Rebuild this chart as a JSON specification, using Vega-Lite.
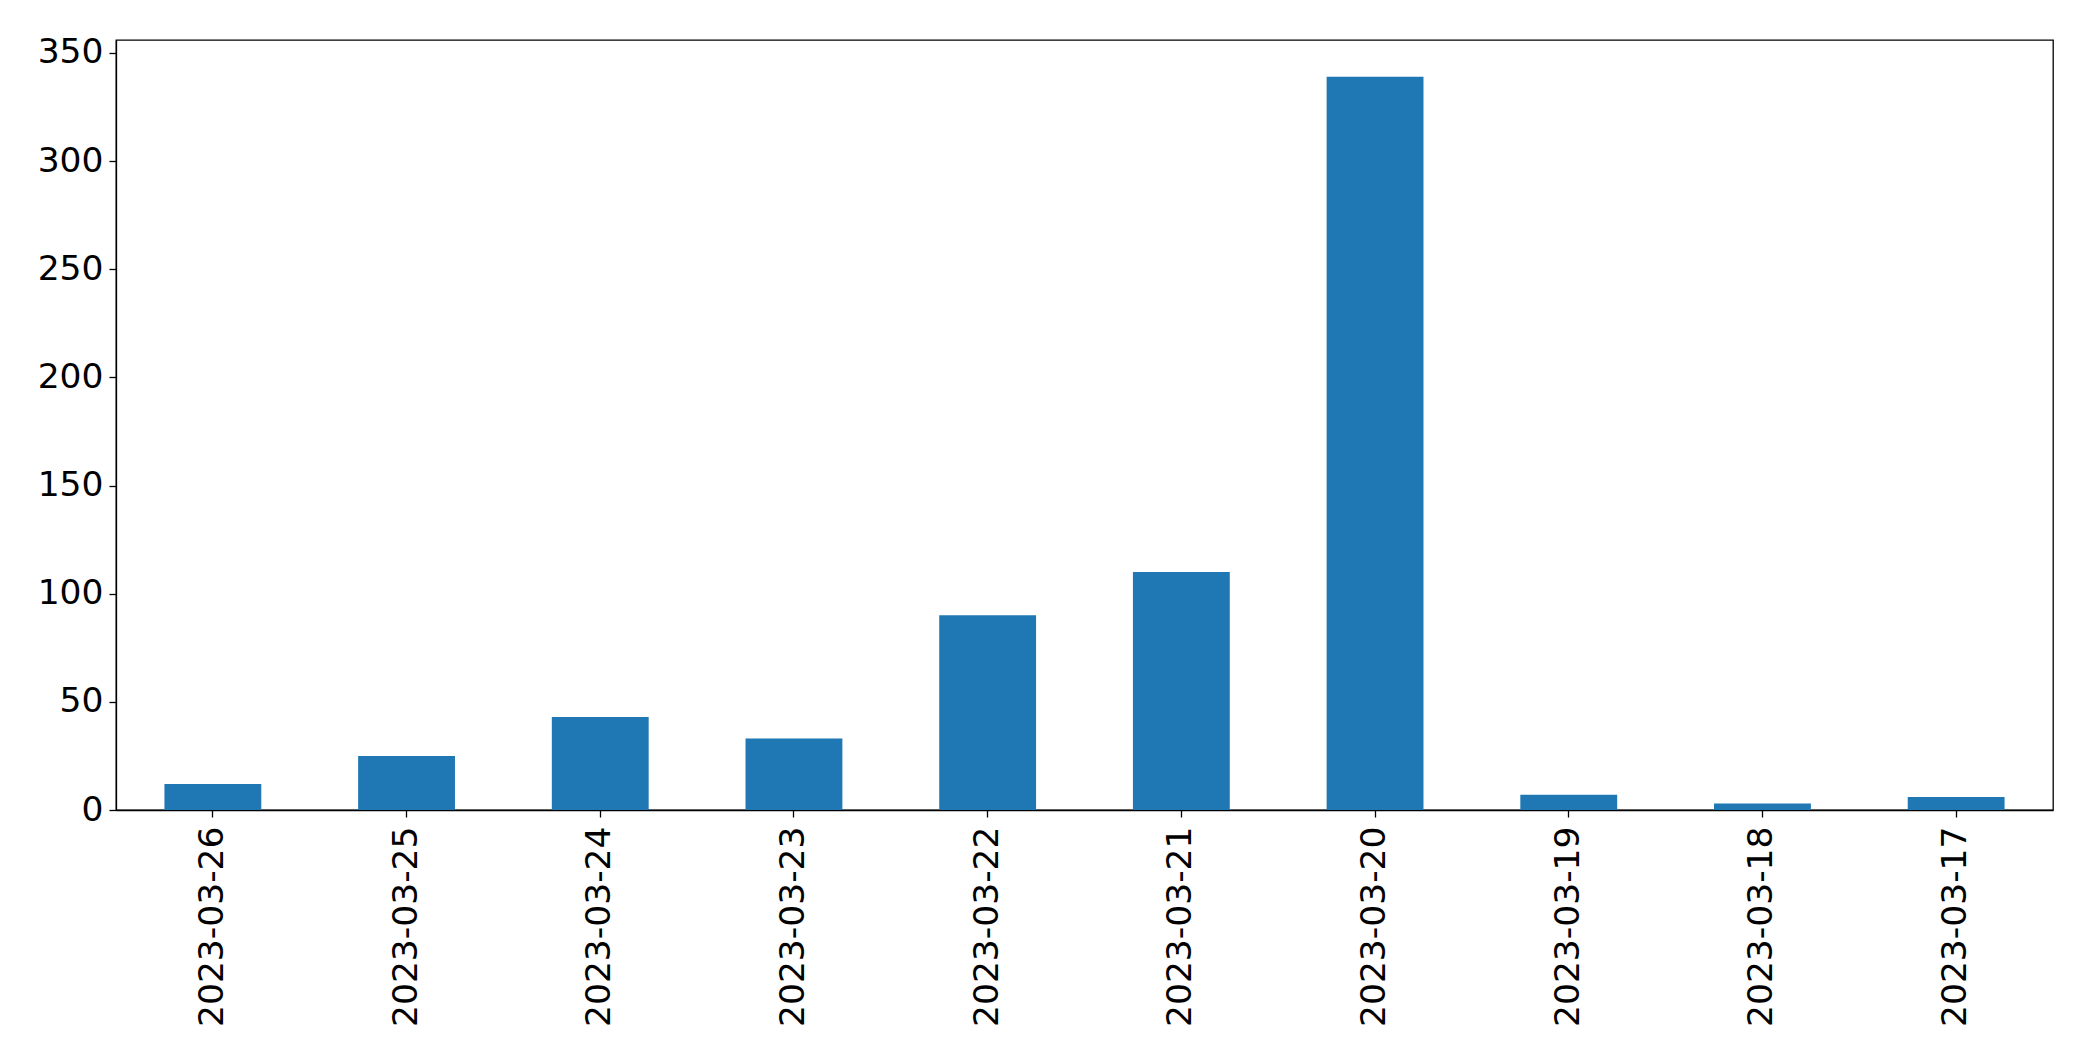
{
  "$schema": "https://vega.github.io/schema/vega-lite/v6.json",
  "width": 1937,
  "height": 770,
  "autosize": "none",
  "padding": {"left": 116, "top": 40, "right": 40, "bottom": 252},
  "background": "white",
  "config": {
    "view": {"stroke": "black", "strokeWidth": 1.3},
    "axis": {
      "grid": false,
      "domainColor": "black",
      "domainWidth": 1.3,
      "tickColor": "black",
      "tickWidth": 1.3,
      "tickSize": 7,
      "labelColor": "black",
      "labelFont": "DejaVu Sans",
      "labelFontSize": 34.5,
      "labelLimit": 0,
      "title": null
    }
  },
  "data": {
    "values": [
      {"date": "2023-03-26", "count": 12},
      {"date": "2023-03-25", "count": 25},
      {"date": "2023-03-24", "count": 43},
      {"date": "2023-03-23", "count": 33},
      {"date": "2023-03-22", "count": 90},
      {"date": "2023-03-21", "count": 110},
      {"date": "2023-03-20", "count": 339},
      {"date": "2023-03-19", "count": 7},
      {"date": "2023-03-18", "count": 3},
      {"date": "2023-03-17", "count": 6}
    ]
  },
  "mark": {"type": "bar", "color": "#1f77b4"},
  "encoding": {
    "x": {
      "field": "date",
      "type": "nominal",
      "sort": null,
      "scale": {"paddingInner": 0.5, "paddingOuter": 0.25},
      "axis": {"labelAngle": -90, "labelPadding": 9}
    },
    "y": {
      "field": "count",
      "type": "quantitative",
      "scale": {"domain": [0, 356], "nice": false},
      "axis": {"values": [0, 50, 100, 150, 200, 250, 300, 350], "labelPadding": 6}
    }
  }
}
